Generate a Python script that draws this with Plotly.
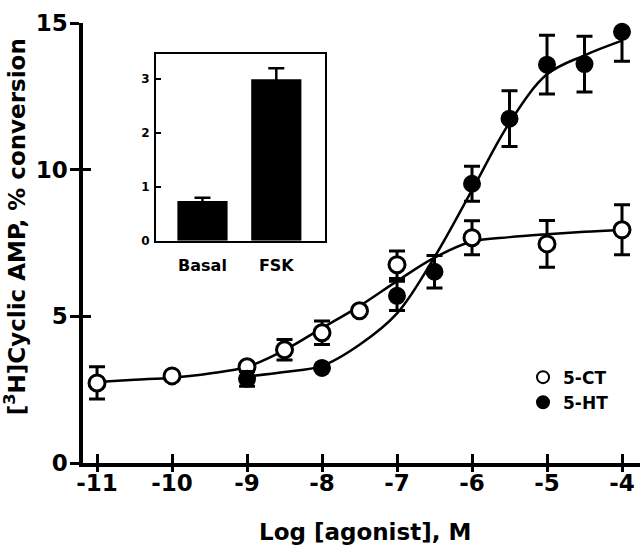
import plotly.graph_objects as go

# ---- data ----
ct_x = [-11, -10, -9, -8.5, -8, -7.5, -7, -6, -5, -4]
ct_y = [2.73, 2.97, 3.28, 3.86, 4.44, 5.19, 6.76, 7.68, 7.47, 7.95]
ct_err = [0.55, 0.0, 0.0, 0.35, 0.4, 0.0, 0.47, 0.58, 0.8, 0.85]

ht_x = [-9, -8, -7, -6.5, -6, -5.5, -5, -4.5, -4]
ht_y = [2.87, 3.24, 5.7, 6.52, 9.52, 11.74, 13.58, 13.6, 14.7]
ht_err = [0.25, 0.0, 0.5, 0.55, 0.6, 0.95, 1.0, 0.95, 1.0]

ct_curve_x = [-11, -10.5, -10, -9.5, -9, -8.5, -8, -7.5, -7, -6.5, -6, -5.5, -5, -4.5, -4]
ct_curve_y = [2.76, 2.84, 2.91, 3.05, 3.28, 3.85, 4.6, 5.35, 6.2, 7.0, 7.55, 7.7, 7.8, 7.88, 7.94]

ht_curve_x = [-9, -8.5, -8, -7.5, -7, -6.5, -6, -5.5, -5, -4.5, -4]
ht_curve_y = [2.95, 3.1, 3.31, 4.03, 5.1, 7.02, 9.3, 11.6, 13.25, 13.9, 14.4]

inset_cats = ["Basal", "FSK"]
inset_vals = [0.74, 3.0]
inset_err = [0.06, 0.2]

x_ticks = [-11, -10, -9, -8, -7, -6, -5, -4]
y_ticks = [0, 5, 10, 15]
inset_y_ticks = [0, 1, 2, 3]

FONT = "DejaVu Sans, Liberation Sans, sans-serif"

fig = go.Figure()

# fitted curves
fig.add_trace(go.Scatter(x=ct_curve_x, y=ct_curve_y, mode="lines", line=dict(color="black", width=2.5, shape="spline"),
                         showlegend=False, hoverinfo="skip"))
fig.add_trace(go.Scatter(x=ht_curve_x, y=ht_curve_y, mode="lines", line=dict(color="black", width=2.5, shape="spline"),
                         showlegend=False, hoverinfo="skip"))

# data points
fig.add_trace(go.Scatter(x=ct_x, y=ct_y, mode="markers", name="5-CT",
                         marker=dict(symbol="circle", size=16, color="white", line=dict(color="black", width=3)),
                         error_y=dict(type="data", array=ct_err, color="black", thickness=3, width=8),
                         cliponaxis=False))
fig.add_trace(go.Scatter(x=ht_x, y=ht_y, mode="markers", name="5-HT",
                         marker=dict(symbol="circle", size=16, color="black", line=dict(color="black", width=2)),
                         error_y=dict(type="data", array=ht_err, color="black", thickness=3, width=8),
                         cliponaxis=False))

# inset bars
fig.add_trace(go.Bar(x=[0, 1], y=inset_vals, width=0.68, marker=dict(color="black", line=dict(width=0)),
                     error_y=dict(type="data", array=inset_err, color="black", thickness=2.5, width=8),
                     xaxis="x2", yaxis="y2", showlegend=False))

# helper trace for the inner half of the main-axis ticks
fig.add_trace(go.Scatter(x=[-11], y=[0], xaxis="x3", yaxis="y3", mode="markers",
                         marker=dict(opacity=0), showlegend=False, hoverinfo="skip"))

fig.update_layout(
    width=640, height=547,
    margin=dict(l=83, r=0, t=23, b=84),
    paper_bgcolor="white", plot_bgcolor="white",
    font=dict(family=FONT, color="black"),
    xaxis=dict(range=[-11.187, -3.76], tickvals=x_ticks, ticktext=[str(v) for v in x_ticks],
               showgrid=False, zeroline=False, showline=True, linecolor="black", linewidth=3.5,
               ticks="outside", ticklen=5, tickwidth=3, tickcolor="black",
               tickfont=dict(size=23, family=FONT, weight="bold"), ticklabelstandoff=-8),
    yaxis=dict(range=[0, 15], tickvals=y_ticks, ticktext=[str(v) for v in y_ticks],
               showgrid=False, zeroline=False, showline=True, linecolor="black", linewidth=3.5,
               ticks="outside", ticklen=9, tickwidth=3, tickcolor="black",
               tickfont=dict(size=23, family=FONT, weight="bold"), ticklabelstandoff=-2),
    xaxis3=dict(overlaying="x", range=[-11.187, -3.76], tickvals=x_ticks, showticklabels=False,
                showgrid=False, zeroline=False, showline=False, ticks="inside", ticklen=9,
                tickwidth=3, tickcolor="black"),
    yaxis3=dict(overlaying="y", range=[0, 15], tickvals=y_ticks, showticklabels=False,
                showgrid=False, zeroline=False, showline=False, ticks="inside", ticklen=8,
                tickwidth=3, tickcolor="black"),
    xaxis2=dict(domain=[0.131, 0.4345], anchor="y2", range=[-0.63, 1.66], tickvals=[0, 1], ticktext=inset_cats,
                showgrid=False, zeroline=False, showline=True, mirror=True, linecolor="black", linewidth=2,
                ticks="", tickfont=dict(size=16, family=FONT, weight="bold"), ticklabelstandoff=9),
    yaxis2=dict(domain=[0.505, 0.93], anchor="x2", range=[0, 3.47], tickvals=inset_y_ticks,
                ticktext=[str(v) for v in inset_y_ticks],
                showgrid=False, zeroline=False, showline=True, mirror=True, linecolor="black", linewidth=2,
                ticks="inside", ticklen=5, tickwidth=2, tickcolor="black",
                tickfont=dict(size=12, family=FONT, weight="bold"), ticklabelstandoff=2),
    legend=dict(x=0.79, y=0.235, xanchor="left", yanchor="top", bgcolor="rgba(0,0,0,0)",
                font=dict(size=17, family=FONT, weight="bold"), itemsizing="constant", tracegroupgap=0),
    showlegend=True,
    annotations=[
        dict(text="[<sup>3</sup>H]Cyclic AMP, % conversion", xref="paper", yref="paper", x=-0.122, y=0.536,
             textangle=-90, showarrow=False, xanchor="center", yanchor="middle",
             font=dict(size=23, family=FONT, weight="bold", color="black")),
        dict(text="Log [agonist], M", xref="paper", yref="paper", x=0.506, y=-0.157,
             showarrow=False, xanchor="center", yanchor="middle",
             font=dict(size=23, family=FONT, weight="bold", color="black")),
    ],
)

fig.write_html("out.html", config={"displayModeBar": False},
               post_script="document.body.style.margin='0';document.body.style.padding='0';document.body.style.overflow='hidden';")
